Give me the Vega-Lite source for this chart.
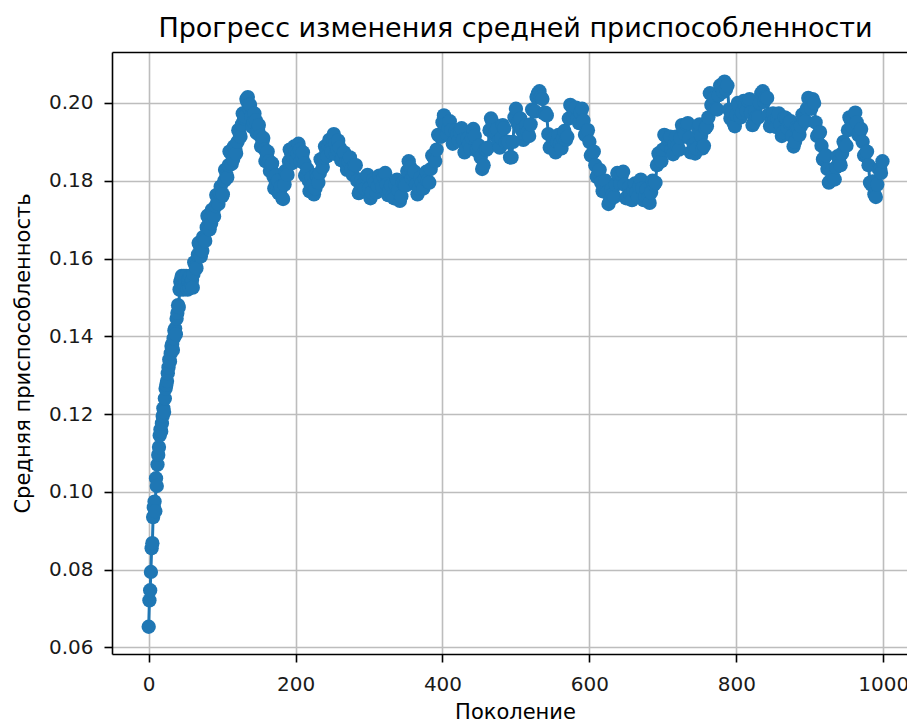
{
  "$schema": "https://vega.github.io/schema/vega-lite/v6.json",
  "autosize": {"type": "none"},
  "padding": {"left": 112, "top": 52, "right": 0, "bottom": 68},
  "width": 795,
  "height": 602,
  "background": "white",
  "title": {"text": "Прогресс изменения средней приспособленности", "font": "DejaVu Sans", "fontSize": 27, "fontWeight": "normal", "color": "#000000", "offset": 9, "anchor": "middle", "dx": 6, "frame": "group"},
  "config": {
    "view": {"stroke": null},
    "axis": {
      "labelFont": "DejaVu Sans", "labelFontSize": 20, "labelColor": "#1a1a1a",
      "titleFont": "DejaVu Sans", "titleFontSize": 21, "titleFontWeight": "normal", "titleColor": "#000000",
      "domainColor": "#000000", "domainWidth": 1.6, "tickColor": "#000000", "tickWidth": 1.6, "tickSize": 8,
      "gridColor": "#bdbdbd", "gridWidth": 1.6, "gridOpacity": 1
    }
  },
  "data": {"values": [
    {"g":0,"f":0.0653},{"g":1,"f":0.0721},{"g":2,"f":0.0747},{"g":3,"f":0.0794},{"g":4,"f":0.0855},{"g":5,"f":0.0868},{"g":6,"f":0.0935},{"g":7,"f":0.096},{"g":8,"f":0.0975},{"g":9,"f":0.095},
    {"g":10,"f":0.1035},{"g":11,"f":0.1015},{"g":12,"f":0.107},{"g":13,"f":0.1095},{"g":14,"f":0.1115},{"g":15,"f":0.1145},{"g":16,"f":0.116},{"g":17,"f":0.1155},{"g":18,"f":0.1176},{"g":19,"f":0.1195},
    {"g":20,"f":0.1215},{"g":21,"f":0.1205},{"g":22,"f":0.124},{"g":23,"f":0.1265},{"g":24,"f":0.1275},{"g":25,"f":0.1285},{"g":26,"f":0.1305},{"g":27,"f":0.132},{"g":28,"f":0.134},{"g":29,"f":0.1335},
    {"g":30,"f":0.1356},{"g":31,"f":0.1375},{"g":32,"f":0.138},{"g":33,"f":0.1365},{"g":34,"f":0.1395},{"g":35,"f":0.1415},{"g":36,"f":0.142},{"g":37,"f":0.1405},{"g":38,"f":0.1445},{"g":39,"f":0.146},
    {"g":40,"f":0.148},{"g":41,"f":0.1475},{"g":42,"f":0.152},{"g":43,"f":0.154},{"g":44,"f":0.1545},{"g":45,"f":0.1555},{"g":46,"f":0.153},{"g":47,"f":0.152},{"g":48,"f":0.1555},{"g":49,"f":0.153},
    {"g":50,"f":0.154},{"g":51,"f":0.1555},{"g":52,"f":0.1525},{"g":53,"f":0.152},{"g":54,"f":0.1545},{"g":55,"f":0.155},{"g":56,"f":0.1525},{"g":57,"f":0.1555},{"g":58,"f":0.1535},{"g":59,"f":0.1545},
    {"g":60,"f":0.1525},{"g":61,"f":0.156},{"g":62,"f":0.159},{"g":64,"f":0.158},{"g":65,"f":0.1575},{"g":67,"f":0.161},{"g":68,"f":0.164},{"g":70,"f":0.163},{"g":71,"f":0.1605},{"g":73,"f":0.162},
    {"g":74,"f":0.1655},{"g":76,"f":0.165},{"g":77,"f":0.1645},{"g":79,"f":0.168},{"g":80,"f":0.171},{"g":82,"f":0.17},{"g":83,"f":0.1675},{"g":85,"f":0.169},{"g":86,"f":0.1725},{"g":88,"f":0.172},
    {"g":89,"f":0.1708},{"g":91,"f":0.1735},{"g":92,"f":0.1763},{"g":94,"f":0.175},{"g":95,"f":0.174},{"g":97,"f":0.177},{"g":98,"f":0.1785},{"g":100,"f":0.176},{"g":101,"f":0.1765},{"g":103,"f":0.18},
    {"g":104,"f":0.1828},{"g":106,"f":0.1815},{"g":107,"f":0.1808},{"g":109,"f":0.184},{"g":110,"f":0.1875},{"g":112,"f":0.187},{"g":113,"f":0.1843},{"g":115,"f":0.1855},{"g":116,"f":0.1888},{"g":118,"f":0.188},
    {"g":119,"f":0.187},{"g":121,"f":0.19},{"g":122,"f":0.193},{"g":124,"f":0.192},{"g":125,"f":0.1913},{"g":127,"f":0.1945},{"g":128,"f":0.1973},{"g":130,"f":0.196},{"g":131,"f":0.1965},{"g":133,"f":0.201},
    {"g":134,"f":0.2005},{"g":135,"f":0.2015},{"g":136,"f":0.1995},{"g":137,"f":0.1985},{"g":138,"f":0.1995},{"g":140,"f":0.1965},{"g":141,"f":0.1938},{"g":143,"f":0.195},{"g":144,"f":0.1973},{"g":146,"f":0.1955},
    {"g":147,"f":0.1923},{"g":149,"f":0.193},{"g":150,"f":0.1943},{"g":152,"f":0.1915},{"g":153,"f":0.1888},{"g":155,"f":0.19},{"g":156,"f":0.191},{"g":158,"f":0.188},{"g":159,"f":0.185},{"g":161,"f":0.186},
    {"g":162,"f":0.1875},{"g":164,"f":0.185},{"g":165,"f":0.1825},{"g":167,"f":0.184},{"g":168,"f":0.1845},{"g":170,"f":0.181},{"g":171,"f":0.178},{"g":173,"f":0.179},{"g":174,"f":0.1815},{"g":176,"f":0.18},
    {"g":177,"f":0.1768},{"g":179,"f":0.1775},{"g":180,"f":0.1785},{"g":182,"f":0.1755},{"g":183,"f":0.1753},{"g":185,"f":0.179},{"g":186,"f":0.1825},{"g":188,"f":0.182},{"g":189,"f":0.1815},{"g":191,"f":0.185},
    {"g":192,"f":0.188},{"g":194,"f":0.187},{"g":195,"f":0.1845},{"g":197,"f":0.186},{"g":198,"f":0.1888},{"g":200,"f":0.1875},{"g":201,"f":0.1853},{"g":203,"f":0.187},{"g":204,"f":0.1895},{"g":206,"f":0.188},
    {"g":207,"f":0.185},{"g":209,"f":0.186},{"g":210,"f":0.1873},{"g":212,"f":0.1845},{"g":213,"f":0.1813},{"g":215,"f":0.182},{"g":216,"f":0.183},{"g":218,"f":0.18},{"g":219,"f":0.1773},{"g":221,"f":0.1785},
    {"g":222,"f":0.1808},{"g":224,"f":0.179},{"g":225,"f":0.1765},{"g":227,"f":0.178},{"g":228,"f":0.1815},{"g":230,"f":0.181},{"g":231,"f":0.1795},{"g":233,"f":0.182},{"g":234,"f":0.1855},{"g":236,"f":0.185},
    {"g":237,"f":0.1835},{"g":239,"f":0.186},{"g":240,"f":0.1888},{"g":242,"f":0.1875},{"g":243,"f":0.1863},{"g":245,"f":0.189},{"g":246,"f":0.1905},{"g":248,"f":0.188},{"g":249,"f":0.1873},{"g":251,"f":0.1905},
    {"g":252,"f":0.192},{"g":254,"f":0.1895},{"g":255,"f":0.1868},{"g":257,"f":0.188},{"g":258,"f":0.1903},{"g":260,"f":0.1885},{"g":262,"f":0.1853},{"g":264,"f":0.186},{"g":266,"f":0.1873},{"g":268,"f":0.1845},
    {"g":270,"f":0.1828},{"g":272,"f":0.185},{"g":274,"f":0.186},{"g":276,"f":0.183},{"g":278,"f":0.1815},{"g":280,"f":0.184},{"g":282,"f":0.184},{"g":284,"f":0.18},{"g":286,"f":0.1768},{"g":288,"f":0.1775},
    {"g":290,"f":0.1803},{"g":292,"f":0.179},{"g":294,"f":0.178},{"g":296,"f":0.181},{"g":298,"f":0.1815},{"g":300,"f":0.178},{"g":302,"f":0.1755},{"g":304,"f":0.177},{"g":306,"f":0.1803},{"g":308,"f":0.1795},
    {"g":310,"f":0.177},{"g":312,"f":0.1785},{"g":314,"f":0.1813},{"g":316,"f":0.18},{"g":318,"f":0.1785},{"g":320,"f":0.181},{"g":322,"f":0.182},{"g":324,"f":0.179},{"g":326,"f":0.1763},{"g":328,"f":0.1775},
    {"g":330,"f":0.1788},{"g":332,"f":0.176},{"g":334,"f":0.1755},{"g":336,"f":0.179},{"g":338,"f":0.1803},{"g":340,"f":0.1775},{"g":342,"f":0.1748},{"g":344,"f":0.176},{"g":346,"f":0.1795},{"g":348,"f":0.179},
    {"g":350,"f":0.1788},{"g":352,"f":0.1825},{"g":354,"f":0.185},{"g":356,"f":0.1835},{"g":358,"f":0.1805},{"g":360,"f":0.1815},{"g":362,"f":0.1823},{"g":364,"f":0.179},{"g":366,"f":0.1765},{"g":368,"f":0.178},
    {"g":370,"f":0.1808},{"g":372,"f":0.1795},{"g":374,"f":0.178},{"g":376,"f":0.1805},{"g":378,"f":0.1823},{"g":380,"f":0.18},{"g":382,"f":0.1795},{"g":384,"f":0.183},{"g":386,"f":0.1865},{"g":388,"f":0.186},
    {"g":390,"f":0.185},{"g":392,"f":0.188},{"g":394,"f":0.1918},{"g":396,"f":0.1915},{"g":398,"f":0.1913},{"g":400,"f":0.195},{"g":402,"f":0.1968},{"g":404,"f":0.1945},{"g":406,"f":0.192},{"g":408,"f":0.1935},
    {"g":410,"f":0.1953},{"g":412,"f":0.193},{"g":414,"f":0.1895},{"g":416,"f":0.19},{"g":418,"f":0.193},{"g":420,"f":0.192},{"g":422,"f":0.1903},{"g":424,"f":0.1925},{"g":426,"f":0.1935},{"g":428,"f":0.1905},
    {"g":430,"f":0.1873},{"g":432,"f":0.188},{"g":434,"f":0.1908},{"g":436,"f":0.1895},{"g":438,"f":0.1883},{"g":440,"f":0.191},{"g":442,"f":0.1933},{"g":444,"f":0.1915},{"g":446,"f":0.1878},{"g":448,"f":0.188},
    {"g":450,"f":0.189},{"g":452,"f":0.186},{"g":454,"f":0.183},{"g":456,"f":0.184},{"g":458,"f":0.188},{"g":460,"f":0.188},{"g":462,"f":0.1885},{"g":464,"f":0.193},{"g":466,"f":0.196},{"g":468,"f":0.195},
    {"g":470,"f":0.1918},{"g":472,"f":0.1925},{"g":474,"f":0.1933},{"g":476,"f":0.19},{"g":478,"f":0.1885},{"g":480,"f":0.191},{"g":482,"f":0.1943},{"g":484,"f":0.1935},{"g":486,"f":0.1898},{"g":488,"f":0.19},
    {"g":490,"f":0.19},{"g":492,"f":0.186},{"g":494,"f":0.186},{"g":496,"f":0.19},{"g":498,"f":0.1963},{"g":500,"f":0.1985},{"g":502,"f":0.1948},{"g":504,"f":0.195},{"g":506,"f":0.196},{"g":508,"f":0.193},
    {"g":510,"f":0.1905},{"g":512,"f":0.192},{"g":514,"f":0.1943},{"g":516,"f":0.1925},{"g":518,"f":0.1915},{"g":520,"f":0.1945},{"g":522,"f":0.1983},{"g":524,"f":0.198},{"g":526,"f":0.1978},{"g":528,"f":0.2015},
    {"g":530,"f":0.2025},{"g":532,"f":0.203},{"g":534,"f":0.2015},{"g":536,"f":0.201},{"g":538,"f":0.1973},{"g":540,"f":0.1975},{"g":542,"f":0.1968},{"g":544,"f":0.192},{"g":546,"f":0.1885},{"g":548,"f":0.189},
    {"g":550,"f":0.1908},{"g":552,"f":0.1885},{"g":554,"f":0.1873},{"g":556,"f":0.19},{"g":558,"f":0.1918},{"g":560,"f":0.1895},{"g":562,"f":0.1883},{"g":564,"f":0.191},{"g":566,"f":0.1928},{"g":568,"f":0.1905},
    {"g":570,"f":0.1913},{"g":572,"f":0.196},{"g":574,"f":0.1995},{"g":576,"f":0.199},{"g":578,"f":0.1963},{"g":580,"f":0.1975},{"g":582,"f":0.1988},{"g":584,"f":0.196},{"g":586,"f":0.1948},{"g":588,"f":0.1975},
    {"g":590,"f":0.1985},{"g":592,"f":0.1955},{"g":594,"f":0.1918},{"g":596,"f":0.192},{"g":598,"f":0.193},{"g":600,"f":0.19},{"g":602,"f":0.1865},{"g":604,"f":0.187},{"g":606,"f":0.1875},{"g":608,"f":0.184},
    {"g":610,"f":0.181},{"g":612,"f":0.182},{"g":614,"f":0.1828},{"g":616,"f":0.1795},{"g":618,"f":0.1773},{"g":620,"f":0.179},{"g":622,"f":0.18},{"g":624,"f":0.177},{"g":626,"f":0.174},{"g":628,"f":0.175},
    {"g":630,"f":0.1778},{"g":632,"f":0.1765},{"g":634,"f":0.1758},{"g":636,"f":0.179},{"g":638,"f":0.182},{"g":640,"f":0.181},{"g":642,"f":0.1793},{"g":644,"f":0.1815},{"g":646,"f":0.1823},{"g":648,"f":0.179},
    {"g":650,"f":0.1755},{"g":652,"f":0.176},{"g":654,"f":0.1783},{"g":656,"f":0.1765},{"g":658,"f":0.175},{"g":660,"f":0.1775},{"g":662,"f":0.1793},{"g":664,"f":0.177},{"g":666,"f":0.1758},{"g":668,"f":0.1785},
    {"g":670,"f":0.1803},{"g":672,"f":0.178},{"g":674,"f":0.175},{"g":676,"f":0.176},{"g":678,"f":0.1778},{"g":680,"f":0.1755},{"g":682,"f":0.1743},{"g":684,"f":0.177},{"g":686,"f":0.18},{"g":688,"f":0.179},
    {"g":690,"f":0.1795},{"g":692,"f":0.184},{"g":694,"f":0.187},{"g":696,"f":0.186},{"g":698,"f":0.185},{"g":700,"f":0.188},{"g":702,"f":0.1918},{"g":704,"f":0.1915},{"g":706,"f":0.189},{"g":708,"f":0.1905},
    {"g":710,"f":0.1913},{"g":712,"f":0.188},{"g":714,"f":0.1868},{"g":716,"f":0.1895},{"g":718,"f":0.1913},{"g":720,"f":0.189},{"g":722,"f":0.188},{"g":724,"f":0.191},{"g":726,"f":0.1943},{"g":728,"f":0.1935},
    {"g":730,"f":0.192},{"g":732,"f":0.1945},{"g":734,"f":0.1948},{"g":736,"f":0.191},{"g":738,"f":0.1873},{"g":740,"f":0.1875},{"g":742,"f":0.1893},{"g":744,"f":0.187},{"g":746,"f":0.1883},{"g":748,"f":0.1935},
    {"g":750,"f":0.1945},{"g":752,"f":0.1915},{"g":754,"f":0.1883},{"g":756,"f":0.189},{"g":758,"f":0.1935},{"g":760,"f":0.194},{"g":762,"f":0.1963},{"g":764,"f":0.2025},{"g":766,"f":0.1995},{"g":768,"f":0.2},
    {"g":770,"f":0.2013},{"g":772,"f":0.1985},{"g":774,"f":0.1983},{"g":776,"f":0.202},{"g":778,"f":0.2045},{"g":780,"f":0.204},{"g":782,"f":0.2028},{"g":784,"f":0.2055},{"g":786,"f":0.2035},{"g":788,"f":0.2045},
    {"g":790,"f":0.1983},{"g":792,"f":0.196},{"g":794,"f":0.1975},{"g":796,"f":0.195},{"g":798,"f":0.194},{"g":800,"f":0.197},{"g":802,"f":0.2},{"g":804,"f":0.199},{"g":806,"f":0.1963},{"g":808,"f":0.1975},
    {"g":810,"f":0.2005},{"g":812,"f":0.1995},{"g":814,"f":0.198},{"g":816,"f":0.2005},{"g":818,"f":0.201},{"g":820,"f":0.1975},{"g":822,"f":0.1943},{"g":824,"f":0.195},{"g":826,"f":0.1978},{"g":828,"f":0.1965},
    {"g":830,"f":0.1963},{"g":832,"f":0.2},{"g":834,"f":0.2025},{"g":836,"f":0.203},{"g":838,"f":0.2003},{"g":840,"f":0.2015},{"g":842,"f":0.2013},{"g":844,"f":0.197},{"g":846,"f":0.194},{"g":848,"f":0.195},
    {"g":850,"f":0.1973},{"g":852,"f":0.1955},{"g":854,"f":0.1938},{"g":856,"f":0.196},{"g":858,"f":0.1973},{"g":860,"f":0.1945},{"g":862,"f":0.1915},{"g":864,"f":0.1925},{"g":866,"f":0.1963},{"g":868,"f":0.196},
    {"g":870,"f":0.1935},{"g":872,"f":0.195},{"g":874,"f":0.1953},{"g":876,"f":0.1915},{"g":878,"f":0.1888},{"g":880,"f":0.19},{"g":882,"f":0.1938},{"g":884,"f":0.1935},{"g":886,"f":0.1918},{"g":888,"f":0.194},
    {"g":890,"f":0.197},{"g":892,"f":0.196},{"g":894,"f":0.1953},{"g":896,"f":0.1985},{"g":898,"f":0.2013},{"g":900,"f":0.2},{"g":902,"f":0.1985},{"g":904,"f":0.201},{"g":906,"f":0.2},{"g":908,"f":0.195},
    {"g":910,"f":0.1915},{"g":912,"f":0.192},{"g":914,"f":0.1925},{"g":916,"f":0.189},{"g":918,"f":0.1855},{"g":920,"f":0.186},{"g":922,"f":0.1865},{"g":924,"f":0.183},{"g":926,"f":0.1795},{"g":928,"f":0.18},
    {"g":930,"f":0.1825},{"g":932,"f":0.181},{"g":934,"f":0.1803},{"g":936,"f":0.1835},{"g":938,"f":0.1863},{"g":940,"f":0.185},{"g":942,"f":0.184},{"g":944,"f":0.187},{"g":946,"f":0.19},{"g":948,"f":0.189},
    {"g":950,"f":0.189},{"g":952,"f":0.193},{"g":954,"f":0.1963},{"g":956,"f":0.1955},{"g":958,"f":0.1938},{"g":960,"f":0.196},{"g":962,"f":0.1975},{"g":964,"f":0.195},{"g":966,"f":0.1918},{"g":968,"f":0.1925},
    {"g":970,"f":0.1933},{"g":972,"f":0.19},{"g":974,"f":0.1865},{"g":976,"f":0.187},{"g":978,"f":0.1875},{"g":980,"f":0.184},{"g":982,"f":0.1795},{"g":984,"f":0.179},{"g":986,"f":0.1798},{"g":988,"f":0.1765},
    {"g":990,"f":0.1758},{"g":992,"f":0.179},{"g":994,"f":0.183},{"g":996,"f":0.183},{"g":997,"f":0.182},{"g":999,"f":0.185}
  ]},
  "encoding": {
    "y": {"field": "f", "type": "quantitative", "scale": {"domain": [0.0583, 0.2131], "nice": false, "zero": false},
      "axis": {"values": [0.06, 0.08, 0.10, 0.12, 0.14, 0.16, 0.18, 0.20], "format": ".2f", "labelPadding": 11,
        "title": "Средняя приспособленность", "titleX": -89, "titleY": 301, "titleBaseline": "middle", "titleAngle": -90}}
  },
  "layer": [
    {"mark": {"type": "line", "color": "#1f77b4", "strokeWidth": 3},
     "encoding": {"x": {"field": "g", "type": "quantitative", "scale": {"domain": [-49.95, 1032.4], "nice": false, "zero": false},
       "axis": {"orient": "bottom", "values": [0, 200, 400, 600, 800, 1000], "format": "d", "labelPadding": 12,
         "title": "Поколение", "titleX": 403, "titleY": 58, "titleBaseline": "middle"}}}},
    {"mark": {"type": "point", "filled": true, "size": 205, "opacity": 1, "color": "#1f77b4"},
     "encoding": {"x": {"field": "g", "type": "quantitative", "scale": {"domain": [-49.95, 1032.4], "nice": false, "zero": false},
       "axis": {"orient": "top", "labels": false, "ticks": false, "grid": false, "title": null}}}}
  ],
  "resolve": {"axis": {"x": "independent"}}
}
